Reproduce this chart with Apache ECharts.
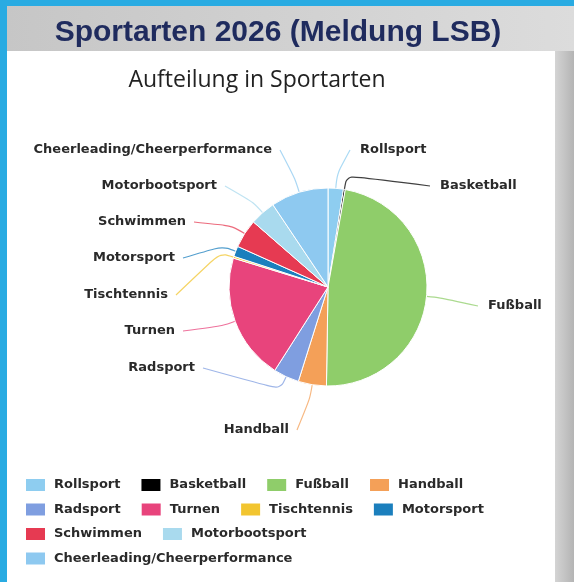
<!DOCTYPE html>
<html>
<head>
<meta charset="utf-8">
<script src="https://cdn.jsdelivr.net/npm/echarts@6/dist/echarts.min.js"></script>
<style>
  html, body { margin: 0; padding: 0; background: #29abe2; }
  #main { width: 574px; height: 582px; }
</style>
</head>
<body>
<div id="main"></div>
<script>
// sports and their share of the pie (in %)
const categories = [
  "Rollsport", "Basketball", "Fußball", "Handball", "Radsport", "Turnen",
  "Tischtennis", "Motorsport", "Schwimmen", "Motorbootsport",
  "Cheerleading/Cheerperformance"
];
const values = [2.5, 0.3, 47.5, 4.6, 4.2, 20.7, 0.3, 1.7, 4.7, 4.2, 9.4];
const colors = [
  "#8ecdf0", "#000000", "#8fcd6a", "#f4a058", "#7f9ee0", "#e8447c",
  "#f2c530", "#1b7fbd", "#e63a52", "#a9daee", "#8ec9f0"
];
// legend rows as in the picture
const legendRows = [
  ["Rollsport", "Basketball", "Fußball", "Handball"],
  ["Radsport", "Turnen", "Tischtennis", "Motorsport"],
  ["Schwimmen", "Motorbootsport"],
  ["Cheerleading/Cheerperformance"]
];

// where each slice label sits (text edge, middle of line)
const labelSpots = {
  "Cheerleading/Cheerperformance": { x: 272, y: 150, align: "right" },
  "Motorbootsport": { x: 217, y: 186, align: "right" },
  "Schwimmen": { x: 186, y: 222, align: "right" },
  "Motorsport": { x: 175, y: 258, align: "right" },
  "Tischtennis": { x: 168, y: 295, align: "right" },
  "Turnen": { x: 175, y: 331, align: "right" },
  "Radsport": { x: 195, y: 368, align: "right" },
  "Handball": { x: 289, y: 430, align: "right" },
  "Rollsport": { x: 360, y: 150, align: "left" },
  "Basketball": { x: 440, y: 186, align: "left" },
  "Fußball": { x: 488, y: 306, align: "left" }
};

const pieCenter = [328, 287];
const labelFont = "DejaVu Sans";

var myChart = echarts.init(document.getElementById("main"));

var legends = legendRows.map(function (row, i) {
  return {
    data: row,
    orient: "horizontal",
    left: 24,
    top: 477 + i * 24.5,
    padding: 0,
    itemWidth: 21,
    itemHeight: 14,
    itemGap: 19,
    icon: "rect",
    selectedMode: false,
    textStyle: {
      fontFamily: labelFont,
      fontWeight: "bold",
      fontSize: 13,
      color: "#2a2a2a",
      padding: [0, 0, 0, 3]
    }
  };
});

var option = {
  animation: false,
  color: colors,
  graphic: [
    // grey band behind the slide title
    {
      type: "rect", z: -10,
      shape: { x: 7, y: 6, width: 567, height: 46 },
      style: {
        fill: new echarts.graphic.LinearGradient(0, 0, 1, 0, [
          { offset: 0, color: "#c6c6c6" },
          { offset: 1, color: "#dcdcdc" }
        ])
      }
    },
    // grey strip on the right
    {
      type: "rect", z: -10,
      shape: { x: 555, y: 51, width: 19, height: 531 },
      style: {
        fill: new echarts.graphic.LinearGradient(0, 0, 1, 0, [
          { offset: 0, color: "#d4d4d4" },
          { offset: 1, color: "#b4b4b4" }
        ])
      }
    },
    // white panel of the chart
    {
      type: "rect", z: -10,
      shape: { x: 7, y: 51, width: 548, height: 531 },
      style: { fill: "#ffffff" }
    }
  ],
  title: [
    {
      text: "Sportarten 2026 (Meldung LSB)",
      left: 273,
      top: 13,
      textAlign: "center",
      textStyle: {
        fontFamily: "Liberation Sans",
        fontWeight: "bold",
        fontSize: 30,
        color: "#1f2b5e"
      }
    },
    {
      text: "Aufteilung in Sportarten",
      left: 252,
      top: 64,
      textAlign: "center",
      textStyle: {
        fontFamily: "Open Sans",
        fontWeight: "normal",
        fontSize: 23,
        color: "#222222"
      }
    }
  ],
  legend: legends,
  series: [
    {
      name: "Sportarten",
      type: "pie",
      center: pieCenter,
      radius: 99,
      startAngle: 90,
      clockwise: true,
      avoidLabelOverlap: false,
      itemStyle: { borderColor: "#ffffff", borderWidth: 1 },
      label: {
        show: true,
        position: "outside",
        formatter: "{b}",
        fontFamily: labelFont,
        fontWeight: "bold",
        fontSize: 13,
        color: "#2a2a2a"
      },
      labelLine: {
        show: true,
        length: 12,
        length2: 20,
        smooth: 0.35,
        lineStyle: { width: 1.2, opacity: 0.75 }
      },
      labelLayout: function (params) {
        var spot = labelSpots[categories[params.dataIndex]];
        var p0 = params.labelLinePoints[0];
        var dx = p0[0] - pieCenter[0];
        var dy = p0[1] - pieCenter[1];
        var d = Math.sqrt(dx * dx + dy * dy) || 1;
        var p1 = [p0[0] + dx / d * 14, p0[1] + dy / d * 14];
        var end = spot.align === "right" ? [spot.x + 8, spot.y] : [spot.x - 10, spot.y];
        return {
          x: spot.x,
          y: spot.y,
          align: spot.align,
          verticalAlign: "middle",
          labelLinePoints: [p0, p1, end]
        };
      },
      data: categories.map(function (name, i) {
        return { name: name, value: values[i] };
      })
    }
  ]
};

myChart.setOption(option);
</script>
</body>
</html>
